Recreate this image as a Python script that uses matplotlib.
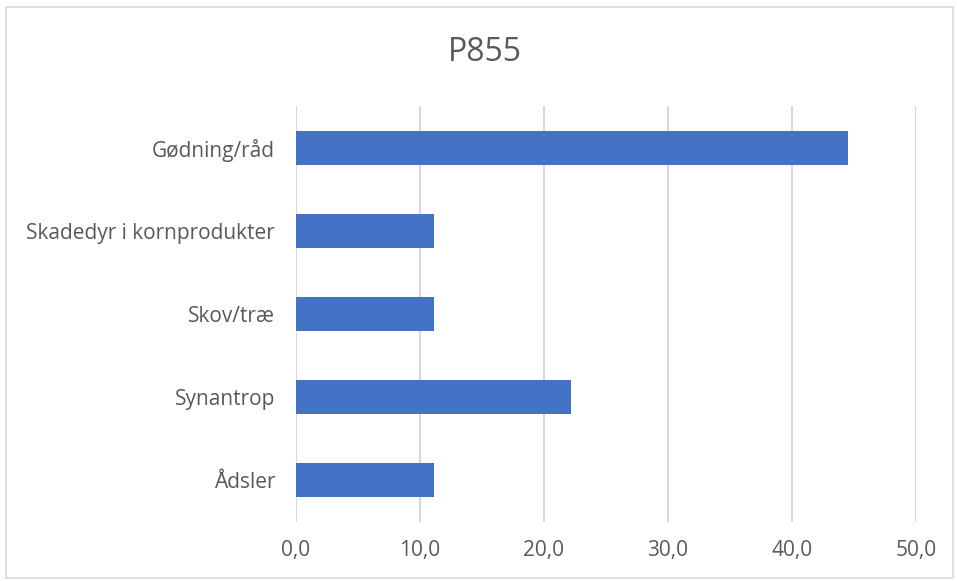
import matplotlib
matplotlib.use("Agg")
import matplotlib.pyplot as plt
from matplotlib.patches import Rectangle

categories = ["Gødning/råd", "Skadedyr i kornprodukter", "Skov/træ", "Synantrop", "Ådsler"]
values = [44.5, 11.1, 11.1, 22.2, 11.1]
xticks = [0, 10, 20, 30, 40, 50]
xtick_labels = ["0,0", "10,0", "20,0", "30,0", "40,0", "50,0"]
title = "P855"

plt.rcParams['font.family'] = ['Open Sans', 'DejaVu Sans']
text_color = "#595959"

fig = plt.figure(figsize=(9.57, 5.81), dpi=100)
fig.patches.append(Rectangle((0.006, 0.006), 0.99, 0.982, transform=fig.transFigure,
                             fill=False, edgecolor="#d9d9d9", linewidth=1.2))
ax = fig.add_axes([0.3093, 0.1015, 0.6477, 0.7161])

ypos = list(range(len(categories)))
ax.barh(ypos, values, height=0.41, color="#4472c4", zorder=3)
ax.set_ylim(len(categories) - 0.5, -0.5)
ax.set_xlim(0, 50)
ax.set_yticks(ypos)
ax.set_yticklabels(categories, fontsize=15, color=text_color)
ax.set_xticks(xticks)
ax.set_xticklabels(xtick_labels, fontsize=15, color=text_color)
ax.tick_params(axis='y', length=0, pad=15)
ax.tick_params(axis='x', length=0, pad=13)
ax.grid(axis='x', color="#d9d9d9", linewidth=1.5, zorder=0)
for s in ax.spines.values():
    s.set_visible(False)

fig.text(0.507, 0.91, title, ha='center', va='center', fontsize=23, color=text_color)

fig.savefig("out.png", dpi=100)
